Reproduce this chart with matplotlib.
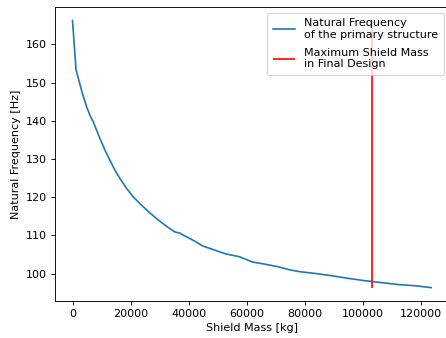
import matplotlib
matplotlib.use('Agg')
import matplotlib.pyplot as plt

# shield mass [kg] and natural frequency [Hz]
shield_mass = [0, 1200, 3370, 4870, 6240, 7150, 8300, 9430, 11150, 12860,
               14580, 16300, 18590, 20860, 23740, 26580, 28880, 32310, 35160,
               36870, 38000, 40300, 42000, 44870, 48300, 52890, 57450, 62020,
               66600, 71170, 74600, 78030, 80330, 83750, 89460, 95180, 100900,
               106600, 112300, 118000, 123500]
frequency = [166.2, 153.4, 147.2, 143.6, 141.0, 139.7, 137.5, 135.4, 132.3, 129.7,
             127.1, 124.9, 122.3, 120.1, 117.9, 115.9, 114.4, 112.4, 110.9,
             110.6, 110.1, 109.2, 108.5, 107.2, 106.3, 105.1, 104.4, 103.0,
             102.4, 101.7, 101.0, 100.5, 100.3, 100.0, 99.4, 98.7, 98.1,
             97.6, 97.1, 96.8, 96.3]
max_shield_mass = 103000

dpi = 80
fig = plt.figure(figsize=(446 / dpi, 338 / dpi), dpi=dpi)
ax = fig.add_axes([0.1224, 0.1095, 0.8845, 0.869])

ax.plot(shield_mass, frequency, label='Natural Frequency\nof the primary structure')
ax.vlines(max_shield_mass, min(frequency), max(frequency), colors='r',
          label='Maximum Shield Mass\nin Final Design')

ax.set_xlabel('Shield Mass [kg]')
ax.set_ylabel('Natural Frequency [Hz]')
ax.legend(loc='upper right', labelspacing=0.7, borderpad=0.5)

plt.savefig('out.png', dpi=dpi)
